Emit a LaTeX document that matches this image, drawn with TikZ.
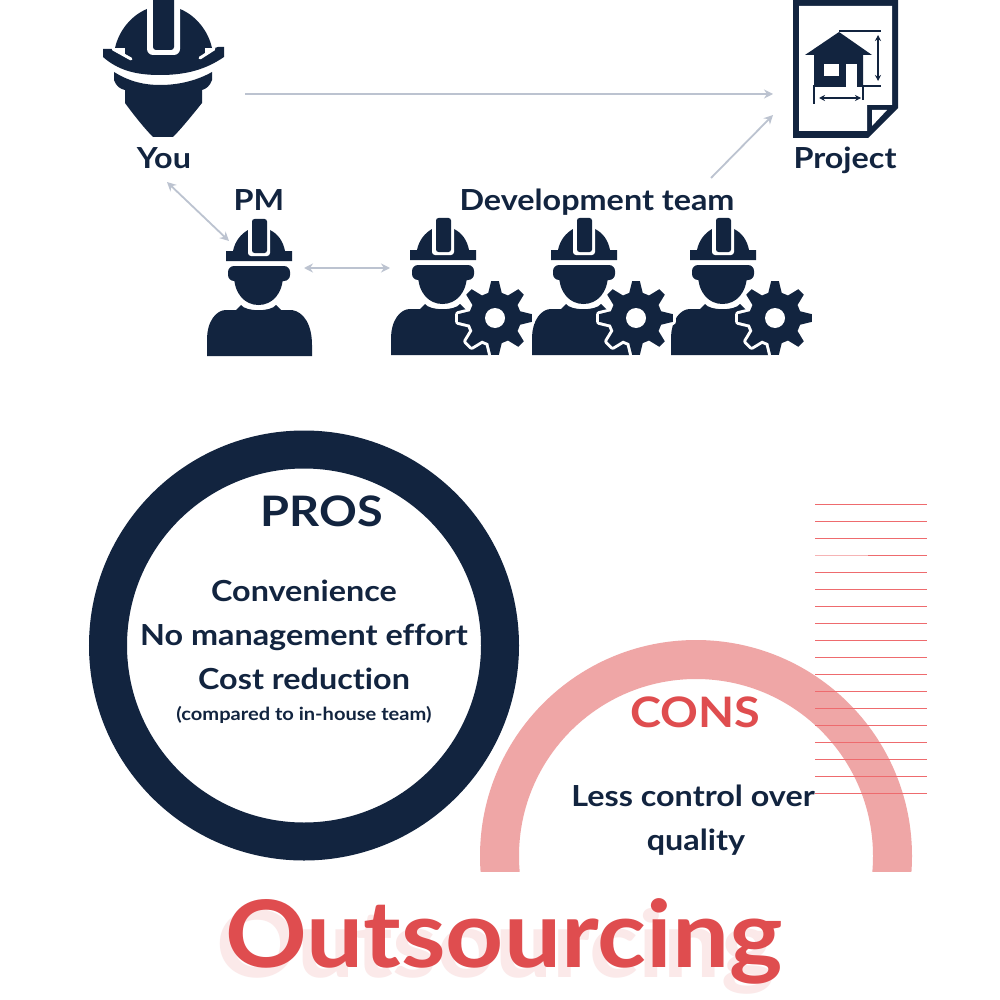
\documentclass[tikz,border=0pt]{standalone}
\usepackage{fontspec}
\setmainfont{Lato}[BoldFont={Lato Bold},FakeStretch=1.115,Ligatures=NoCommon]
\newfontfamily\titlefam{Lato}[BoldFont={Lato Bold},FakeStretch=1.09,Ligatures=NoCommon]
\usetikzlibrary{arrows.meta}
\definecolor{navy}{HTML}{12243F}
\definecolor{redt}{HTML}{DF4D4F}
\definecolor{pinkr}{HTML}{EFA6A6}
\definecolor{shadowp}{HTML}{FBE9E9}
\definecolor{rline}{HTML}{EE6B6E}
\definecolor{rlight}{HTML}{F6B4B5}
\definecolor{arrowg}{HTML}{BCC3D0}
\tikzset{
  lbl/.style={text=navy,font=\bfseries\fontsize{29}{29}\selectfont,anchor=base,inner sep=0pt},
  bigl/.style={lbl,font=\bfseries\fontsize{42}{42}\selectfont},
  titlel/.style={lbl,font=\titlefam\bfseries\fontsize{93}{93}\selectfont},
  conn/.style={draw=arrowg,line width=1.8pt},
  tipb/.style={-{Stealth[length=9pt,width=9pt]}},
  tipd/.style={{Stealth[length=9pt,width=9pt]}-{Stealth[length=9pt,width=9pt]}},
  dimline/.style={navy,line width=1.8pt},
  dimarrow/.style={dimline,{Stealth[length=6pt,width=6pt]}-{Stealth[length=6pt,width=6pt]}},
  hatchl/.style={draw=rline,line width=1.3pt},
  worker/.pic={
    % helmet dome and brim
    \fill[navy] (226,251) -- (233,251) .. controls (235,241) and (241,234) .. (248,230)
      -- (270,230) .. controls (278,234) and (283,241) .. (285,251) -- (292,251) -- (292,261) -- (226,261) -- cycle;
    \fill[white,rounded corners=3pt] (248,216) rectangle (270,256);
    \fill[navy,rounded corners=2.5pt] (252,219) rectangle (267,253);
    % head
    \fill[navy,rounded corners=6pt] (228,266) rectangle (290,281);
    \fill[navy] (234,275) -- (283,275) .. controls (283,294) and (272,305) .. (258.5,305) .. controls (245,305) and (234,294) .. (234,275) -- cycle;
    % body
    \fill[navy] (207,356) -- (207,340) .. controls (207,320) and (217,310) .. (226,310)
      -- (236,310) -- (241,305) .. controls (246,312) and (271,312) .. (276,305) -- (281,310) -- (292,310)
      .. controls (304,312) and (312,325) .. (312,345) -- (312,356) -- cycle;
  },
  gearcut/.pic={
    \fill[white,draw=white,line width=6pt,line join=round] (-15:26)
    \foreach \a in {0,45,...,315} {
      -- (\a-15:26) -- (\a-6:37) -- (\a+6:37) -- (\a+15:26)
    } -- cycle;
    \fill[navy] (-15:26)
    \foreach \a in {0,45,...,315} {
      -- (\a-15:26) -- (\a-6:37) -- (\a+6:37) -- (\a+15:26)
    } -- cycle;
    \fill[white] (0,0) circle (10);
  }
}
\begin{document}
\begin{tikzpicture}[x=1pt,y=-1pt]
\useasboundingbox (0,0) rectangle (1000,1000);
\fill[white] (0,0) rectangle (1000,1000);

% You icon
\fill[navy] (115,48) .. controls (119,30) and (132,15) .. (147,9) -- (180,9)
  .. controls (195,15) and (208,30) .. (212,48) -- cycle;
\fill[navy] (103,49) -- (113,49) -- (135,62) .. controls (150,67) and (175,67) .. (195,62) -- (212,49)
  -- (218,47) -- (224,47) -- (224,57)
  .. controls (205,70) and (185,75) .. (160,75) .. controls (135,75) and (118,70) .. (103,57) -- cycle;
\fill[navy] (125,45) rectangle (205,66);
\fill[white,rounded corners=6pt] (147,-6) rectangle (180,55);
\fill[navy,rounded corners=3pt] (153,-4) rectangle (174,50);
\draw[white,line width=3pt,line cap=round] (113,49) -- (131,59);
\draw[white,line width=3pt,line cap=round] (214,49) -- (200,58);
\fill[navy] (114,72) .. controls (130,82) and (145,85) .. (160,85) .. controls (180,85) and (198,80) .. (212,72)
  -- (212,80) .. controls (210,86) and (206,89) .. (202,90) -- (202,103) .. controls (190,118) and (180,130) .. (173,137)
  -- (153,137) .. controls (146,130) and (136,118) .. (125,103) -- (125,90) .. controls (120,89) and (116,86) .. (114,80) -- cycle;
\node[lbl] (you) at (164,169) {You};

% Project icon
\fill[navy] (793,0) -- (898,0) -- (898,108) -- (868,138) -- (793,138) -- cycle;
\fill[white] (799,6) -- (892,6) -- (892,105) -- (867,105) -- (867,131) -- (799,131) -- cycle;
\fill[white] (872,110) -- (887,110) -- (872,126) -- cycle;
\fill[navy] (839,32) -- (872,55) -- (863,55) -- (863,87) -- (814,87) -- (814,55) -- (805,55) -- cycle;
\fill[white] (824,64) rectangle (839,76);
\fill[white] (846,64) rectangle (857,87);
\draw[dimline] (839,31) -- (881,31);
\draw[dimline] (863,86) -- (881,86);
\draw[dimline] (814,85) -- (814,104);
\draw[dimline] (863,85) -- (863,100);
\draw[dimarrow] (878,35) -- (878,81);
\draw[dimarrow] (819,98) -- (861,98);
\node[lbl] (project) at (845,169) {Project};

% Workers
\pic at (0,0) {worker};
\foreach \dx in {184,325,464} {
  \pic at (\dx,-1) {worker};
}
\pic at (495,318) {gearcut};
\pic at (636,318) {gearcut};
\pic at (775,318) {gearcut};
\node[lbl] (pm) at (259,211) {PM};
\node[lbl] (dev) at (597,211) {Development team};

% Connectors
\coordinate (youR) at (245,94);
\coordinate (prjL) at (773,94);
\coordinate (devT) at (711,178);
\coordinate (prjB) at (773,115);
\coordinate (youB) at (167,182);
\coordinate (pmT) at (229,241);
\coordinate (pmR) at (304,268);
\coordinate (devL) at (390,268);
\draw[conn,tipb] (youR) -- (prjL);
\draw[conn,tipb] (devT) -- (prjB);
\draw[conn,tipd] (youB) -- (pmT);
\draw[conn,tipd] (pmR) -- (devL);

% Pros ring
\draw[navy,line width=38pt] (304,645.5) circle (196);
\node[bigl] (pros) at (322,526) {PROS};
\node[lbl] (p1) at (304,601) {Convenience};
\node[lbl] (p2) at (304,645) {No management effort};
\node[lbl] (p3) at (304,689) {Cost reduction};
\node[lbl,font=\bfseries\fontsize{18}{18}\selectfont] (p4) at (304,720) {(compared to in-house team)};

% Cons arc
\begin{scope}
\clip (400,600) rectangle (950,871);
\draw[pinkr,line width=39pt] (696,856) circle (196.5);
\end{scope}
\foreach \k in {0,...,17} {
  \draw[hatchl] (815,504.3+17*\k) -- (927,504.3+17*\k);
}
\draw[draw=rlight,line width=1.3pt] (815,555.3) -- (868,555.3);
\node[bigl,text=redt] (cons) at (695,727) {CONS};
\node[lbl] (c1) at (693,806) {Less control over};
\node[lbl] (c2) at (696,850) {quality};

% Title
\node[titlel,text=shadowp] (titleshadow) at (495.5,977) {Outsourcing};
\node[titlel,text=redt] (title) at (504,967) {Outsourcing};
\end{tikzpicture}
\end{document}
